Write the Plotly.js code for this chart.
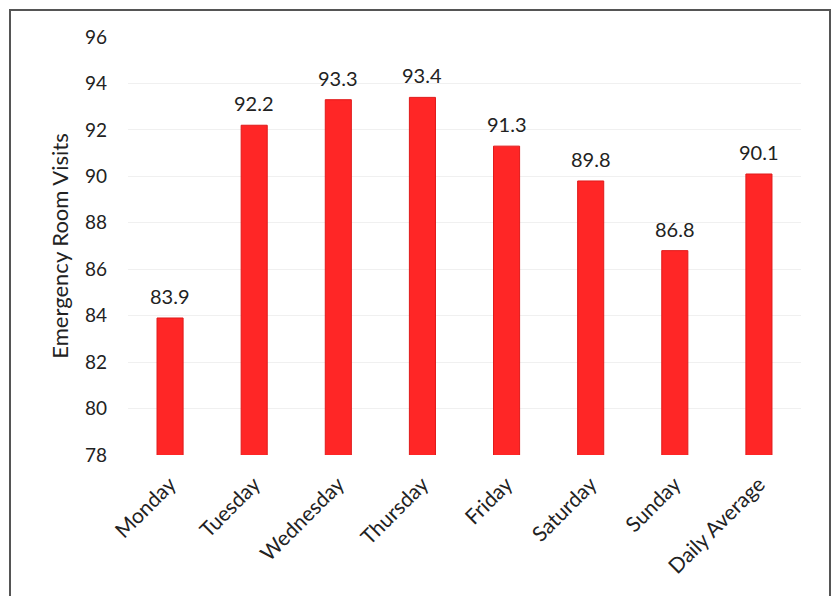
<!DOCTYPE html>
<html>
<head>
<meta charset="utf-8">
<script src="https://cdn.plot.ly/plotly-3.0.1.min.js"></script>
<style>
html,body{margin:0;padding:0;background:#fff;}
#wrap{position:relative;width:834px;height:596px;overflow:hidden;}
#frame{position:absolute;left:9px;top:9px;width:822px;height:600px;border:2px solid #555;box-sizing:border-box;pointer-events:none;}
#chart{position:absolute;left:0;top:0;width:834px;height:596px;}
</style>
</head>
<body>
<div id="wrap">
<div id="chart"></div>
<div id="frame"></div>
</div>
<script>
const categories = ["Monday","Tuesday","Wednesday","Thursday","Friday","Saturday","Sunday","Daily Average"];
const visits = [83.9, 92.2, 93.3, 93.4, 91.3, 89.8, 86.8, 90.1];
const yTicks = [78,80,82,84,86,88,90,92,94,96];

const fontFam = "Lato, 'Open Sans', 'Noto Sans', sans-serif";

const labelAnnotations = categories.map((c, i) => ({
  x: c, y: visits[i], xref: 'x', yref: 'y',
  text: visits[i].toFixed(1),
  showarrow: false, yanchor: 'bottom', yshift: 8,
  font: {family: fontFam, size: 20, color: '#222'}
}));

Plotly.newPlot('chart', [{
  type: 'bar',
  x: categories,
  y: visits,
  marker: {color: '#FF2626', line: {color: '#E01A1A', width: 1}},
  hoverinfo: 'none'
}], {
  width: 834, height: 596,
  margin: {l: 128, r: 33, t: 37, b: 141},
  paper_bgcolor: 'rgba(0,0,0,0)',
  plot_bgcolor: '#fff',
  bargap: 0.69,
  showlegend: false,
  font: {family: fontFam, size: 19, color: '#222'},
  annotations: labelAnnotations,
  xaxis: {
    tickangle: -45,
    tickfont: {family: fontFam, size: 21, color: '#222'},
    ticklabelstandoff: 12,
    showgrid: false, zeroline: false, showline: false, ticks: ''
  },
  yaxis: {
    range: [78, 96],
    tickvals: yTicks,
    tickfont: {family: fontFam, size: 19, color: '#222'},
    ticks: '',
    ticklabelstandoff: 20,
    showgrid: true, gridcolor: '#f0f0f0', gridwidth: 1,
    zeroline: false, showline: false,
    title: {text: 'Emergency Room Visits', font: {family: fontFam, size: 22, color: '#222'}, standoff: 10}
  }
}, {displayModeBar: false, staticPlot: true});
</script>
</body>
</html>
